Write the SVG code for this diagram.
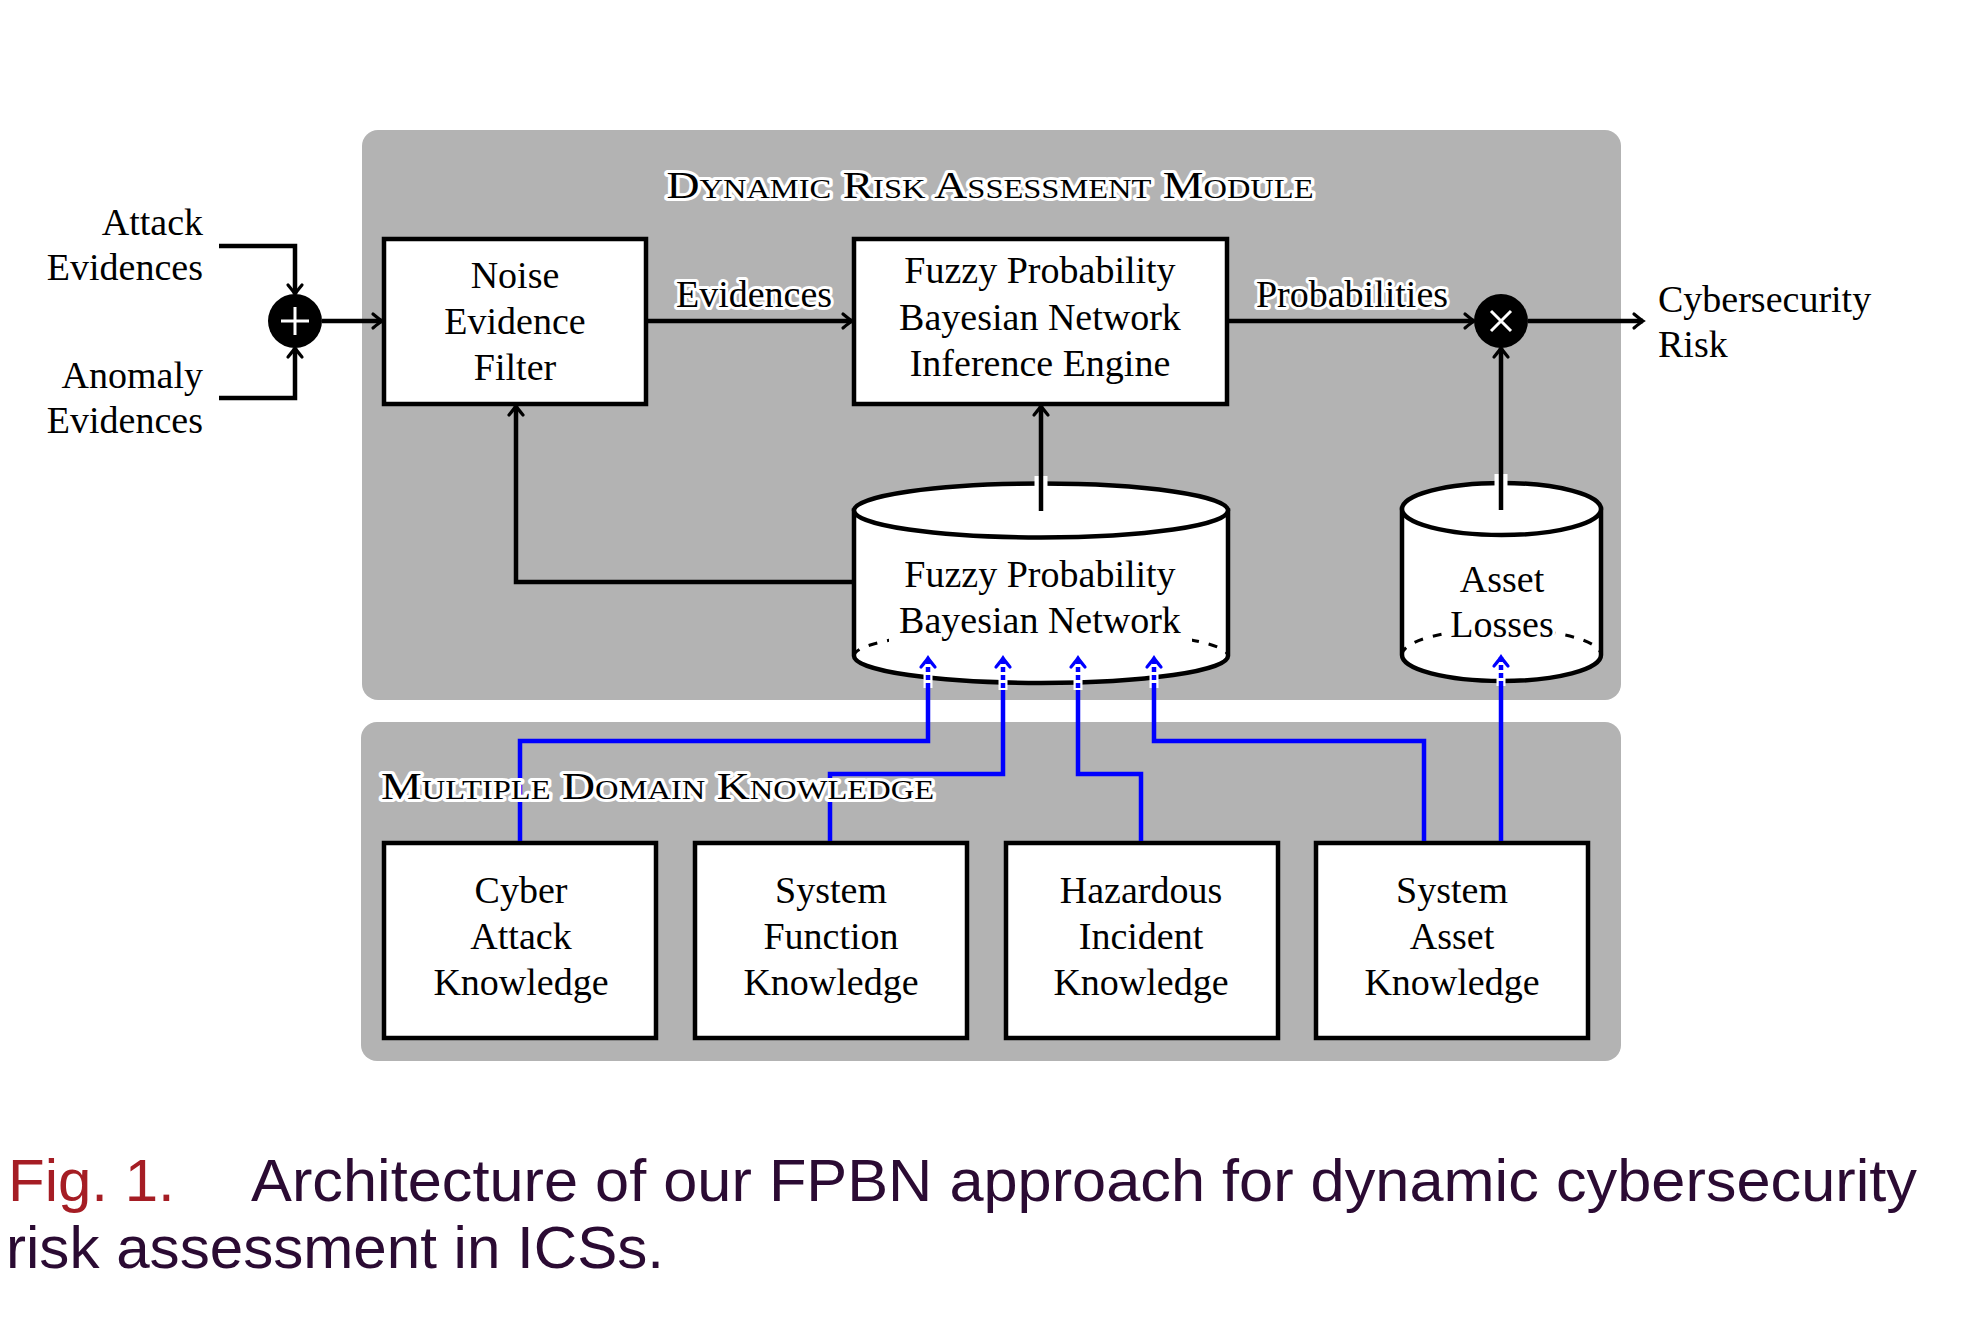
<svg xmlns="http://www.w3.org/2000/svg" width="1964" height="1318" viewBox="0 0 1964 1318">
<style>
.t{font-family:"Liberation Serif","Times New Roman",serif;font-size:38px;fill:#000;paint-order:stroke;stroke:#fff;stroke-width:6px;stroke-linejoin:round}
.m{text-anchor:middle}
.e{text-anchor:end}
.sc{font-variant:small-caps}
.box{fill:#fff;stroke:#000;stroke-width:4.5}
.panel{fill:#b3b3b3}
.ln{fill:none;stroke:#000;stroke-width:4.5}
.bl{fill:none;stroke:#0000ff;stroke-width:4.5}
.cyl{fill:#fff;stroke:#000;stroke-width:4.5}
.back{fill:none;stroke:#000;stroke-width:3;stroke-dasharray:9 10}
.cap{font-family:"Liberation Sans",Arial,sans-serif;font-size:60px}
</style>
<defs>
<marker id="ah" markerUnits="userSpaceOnUse" markerWidth="24" markerHeight="24" viewBox="-14 -12 16 24" refX="0" refY="0" orient="auto" overflow="visible">
<path d="M-9,-7 Q-3,-2 0,0 Q-3,2 -9,7" fill="none" stroke="#000" stroke-width="3.2" stroke-linecap="round"/>
</marker>
<marker id="ahb" markerUnits="userSpaceOnUse" markerWidth="24" markerHeight="24" viewBox="-14 -12 16 24" refX="0" refY="0" orient="auto" overflow="visible">
<path d="M-9,-7 Q-3,-2 0,0 Q-3,2 -9,7" fill="none" stroke="#0000ff" stroke-width="3.2" stroke-linecap="round"/>
</marker>
</defs>
<rect width="1964" height="1318" fill="#fff"/>

<g id="panel-dynamic">
<rect class="panel" x="362" y="130" width="1259" height="570" rx="16"/>
</g>
<g id="panel-knowledge">
<rect class="panel" x="361" y="722" width="1260" height="339" rx="16"/>
</g>

<g id="node-noise">
<rect class="box" x="384" y="239" width="262" height="165"/>
<text class="t m" x="515" y="288">Noise</text>
<text class="t m" x="515" y="334">Evidence</text>
<text class="t m" x="515" y="380">Filter</text>
</g>

<g id="node-engine">
<rect class="box" x="854" y="239" width="373" height="165"/>
<text class="t m" x="1040" y="283">Fuzzy Probability</text>
<text class="t m" x="1040" y="330">Bayesian Network</text>
<text class="t m" x="1040" y="376">Inference Engine</text>
</g>

<g id="node-sum">
<circle cx="295" cy="321" r="27" fill="#000"/>
<path d="M281,321 H309 M295,307 V335" stroke="#fff" stroke-width="3"/>
</g>

<g id="node-prod">
<circle cx="1501" cy="321" r="27" fill="#000"/>
<path d="M1491,311 L1511,331 M1511,311 L1491,331" stroke="#fff" stroke-width="3"/>
</g>

<g id="node-fpbn">
<path class="cyl" d="M854,510.5 V656 A187,27 0 0 0 1228,656 V510.5 Z"/>
<path class="back" d="M854,656 A187,27 0 0 1 1228,656"/>
<ellipse class="cyl" cx="1041" cy="510.5" rx="187" ry="27"/>
<rect x="889" y="600" width="303" height="48" fill="#fff"/>
<text class="t m" x="1040" y="587">Fuzzy Probability</text>
<text class="t m" x="1040" y="633">Bayesian Network</text>
</g>

<g id="node-losses">
<path class="cyl" d="M1402,509 V655 A99.5,26 0 0 0 1601,655 V509 Z"/>
<path class="back" d="M1402,655 A99.5,26 0 0 1 1601,655"/>
<ellipse class="cyl" cx="1501.5" cy="509" rx="99.5" ry="26"/>
<rect x="1446" y="605" width="108" height="42" fill="#fff"/>
<text class="t m" x="1502" y="592">Asset</text>
<text class="t m" x="1502" y="637">Losses</text>
</g>

<g id="node-cyber">
<rect class="box" x="384" y="843" width="272" height="195"/>
<text class="t m" x="521" y="903">Cyber</text>
<text class="t m" x="521" y="949">Attack</text>
<text class="t m" x="521" y="995">Knowledge</text>
</g>
<g id="node-function">
<rect class="box" x="695" y="843" width="272" height="195"/>
<text class="t m" x="831" y="903">System</text>
<text class="t m" x="831" y="949">Function</text>
<text class="t m" x="831" y="995">Knowledge</text>
</g>
<g id="node-hazard">
<rect class="box" x="1006" y="843" width="272" height="195"/>
<text class="t m" x="1141" y="903">Hazardous</text>
<text class="t m" x="1141" y="949">Incident</text>
<text class="t m" x="1141" y="995">Knowledge</text>
</g>
<g id="node-asset">
<rect class="box" x="1316" y="843" width="272" height="195"/>
<text class="t m" x="1452" y="903">System</text>
<text class="t m" x="1452" y="949">Asset</text>
<text class="t m" x="1452" y="995">Knowledge</text>
</g>

<g id="connectors">
<path class="ln" d="M219,246 H295 V294" marker-end="url(#ah)"/>
<path class="ln" d="M219,398 H295 V348" marker-end="url(#ah)"/>
<path class="ln" d="M322,321 H382" marker-end="url(#ah)"/>
<path class="ln" d="M648,321 H852" marker-end="url(#ah)"/>
<path class="ln" d="M1229,321 H1474" marker-end="url(#ah)"/>
<path class="ln" d="M1528,321 H1643" marker-end="url(#ah)"/>
<path d="M1041,476 V490" stroke="#fff" stroke-width="13"/>
<path class="ln" d="M1041,511 V406" marker-end="url(#ah)"/>
<path d="M1501,474 V488" stroke="#fff" stroke-width="13"/>
<path class="ln" d="M1501,510 V348" marker-end="url(#ah)"/>
<path class="ln" d="M854,582 H516 V406" marker-end="url(#ah)"/>

<path class="bl" d="M520,841 V741 H928 V686"/>
<path class="bl" d="M830,841 V774 H1003 V686"/>
<path class="bl" d="M1141,841 V774 H1078 V686"/>
<path class="bl" d="M1424,841 V741 H1154 V686"/>
<path class="bl" d="M1501,841 V684"/>
<g stroke="#fff" stroke-width="9">
<path d="M928,674 V688 M1003,676 V690 M1078,676 V690 M1154,674 V688 M1501,672 V686"/>
</g>
<g class="bl" stroke-dasharray="5 3">
<path d="M928,688 V658" marker-end="url(#ahb)"/>
<path d="M1003,688 V658" marker-end="url(#ahb)"/>
<path d="M1078,688 V658" marker-end="url(#ahb)"/>
<path d="M1154,688 V658" marker-end="url(#ahb)"/>
<path d="M1501,686 V657" marker-end="url(#ahb)"/>
</g>
</g>

<g id="labels">
<text class="t sc m" x="990" y="198" textLength="647" lengthAdjust="spacingAndGlyphs">Dynamic Risk Assessment Module</text>
<text class="t sc" x="381" y="799" textLength="553" lengthAdjust="spacingAndGlyphs">Multiple Domain Knowledge</text>
<text class="t m" x="754" y="307">Evidences</text>
<text class="t m" x="1352" y="307">Probabilities</text>
<text class="t e" x="203" y="235">Attack</text>
<text class="t e" x="203" y="280">Evidences</text>
<text class="t e" x="203" y="388">Anomaly</text>
<text class="t e" x="203" y="433">Evidences</text>
<text class="t" x="1658" y="312">Cybersecurity</text>
<text class="t" x="1658" y="357">Risk</text>
</g>

<g id="caption">
<text class="cap" x="8" y="1201" fill="#a51d24">Fig. 1.</text>
<text class="cap" x="251" y="1201" fill="#2b0b33" textLength="1666" lengthAdjust="spacingAndGlyphs">Architecture of our FPBN approach for dynamic cybersecurity</text>
<text class="cap" x="6" y="1268" fill="#2b0b33" textLength="658" lengthAdjust="spacingAndGlyphs">risk assessment in ICSs.</text>
</g>
</svg>
